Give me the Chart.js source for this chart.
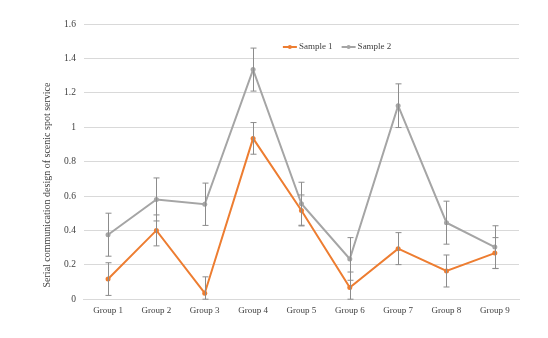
<!DOCTYPE html>
<html>
<head>
<meta charset="utf-8">
<script src="https://cdn.jsdelivr.net/npm/chart.js@4"></script>
<style>
  html, body { margin: 0; padding: 0; background: #fff; }
  #wrap { width: 548px; height: 338px; }
</style>
</head>
<body>
<div id="wrap"><canvas id="myChart" width="548" height="338"></canvas></div>
<script>
const groups = ['Group 1', 'Group 2', 'Group 3', 'Group 4', 'Group 5', 'Group 6', 'Group 7', 'Group 8', 'Group 9'];
const sample1 = [0.117, 0.40, 0.035, 0.935, 0.516, 0.068, 0.294, 0.164, 0.268];
const sample1Err = [0.095, 0.09, 0.095, 0.092, 0.09, 0.09, 0.093, 0.093, 0.09];
const sample2 = [0.375, 0.58, 0.552, 1.335, 0.555, 0.234, 1.125, 0.445, 0.303];
const sample2Err = [0.125, 0.125, 0.123, 0.125, 0.125, 0.124, 0.127, 0.125, 0.124];
const yTicks = [0, 0.2, 0.4, 0.6, 0.8, 1, 1.2, 1.4, 1.6];

const orange = '#ED7D31';
const grey = '#A5A5A5';
const serif = '"Liberation Serif", "Times New Roman", serif';

// error bars drawn from the data arrays through the chart scales
const errorBars = {
    id: 'errorBars',
    afterDatasetsDraw(chart) {
        const ctx = chart.ctx;
        const x = chart.scales.x;
        const y = chart.scales.y;
        const sets = [[sample1, sample1Err], [sample2, sample2Err]];
        ctx.save();
        ctx.strokeStyle = '#8C8C8C';
        ctx.lineWidth = 1;
        sets.forEach(function(s) {
            s[0].forEach(function(v, i) {
                const px = Math.round(x.getPixelForValue(i)) + 0.5;
                const top = y.getPixelForValue(v + s[1][i]);
                const bot = Math.min(y.getPixelForValue(v - s[1][i]), y.bottom);
                ctx.beginPath();
                ctx.moveTo(px, top); ctx.lineTo(px, bot);
                ctx.moveTo(px - 3, top); ctx.lineTo(px + 3, top);
                ctx.moveTo(px - 3, bot); ctx.lineTo(px + 3, bot);
                ctx.stroke();
            });
        });
        ctx.restore();
    }
};

// y title drawn lower than centre, as in the original
const yTitle = {
    id: 'yTitle',
    afterDraw(chart) {
        const ctx = chart.ctx;
        const a = chart.chartArea;
        ctx.save();
        ctx.font = '10px ' + serif;
        ctx.fillStyle = '#404040';
        ctx.textAlign = 'center';
        ctx.textBaseline = 'middle';
        ctx.translate(47, a.top + 161);
        ctx.rotate(-Math.PI / 2);
        ctx.fillText('Serial communication design of scenic spot service', 0, 0);
        ctx.restore();
    }
};

// legend sitting inside the plot area, like the original
const innerLegend = {
    id: 'innerLegend',
    afterDraw(chart) {
        const ctx = chart.ctx;
        const a = chart.chartArea;
        const items = [['Sample 1', orange], ['Sample 2', grey]];
        let lx = a.left + 199;
        const ly = a.top + 23;
        ctx.save();
        ctx.font = '9px ' + serif;
        ctx.textBaseline = 'middle';
        items.forEach(function(it) {
            ctx.strokeStyle = it[1];
            ctx.lineWidth = 2;
            ctx.beginPath();
            ctx.moveTo(lx, ly); ctx.lineTo(lx + 14, ly);
            ctx.stroke();
            ctx.fillStyle = it[1];
            ctx.beginPath();
            ctx.arc(lx + 7, ly, 2, 0, Math.PI * 2);
            ctx.fill();
            ctx.fillStyle = '#404040';
            ctx.fillText(it[0], lx + 16, ly);
            lx += 16 + ctx.measureText(it[0]).width + 9;
        });
        ctx.restore();
    }
};

const data = {
    labels: groups,
    datasets: [{
        label: 'Sample 1',
        data: sample1,
        borderColor: orange,
        backgroundColor: orange,
        borderWidth: 2,
        pointRadius: 2.5,
        pointBorderWidth: 0,
        tension: 0
    }, {
        label: 'Sample 2',
        data: sample2,
        borderColor: grey,
        backgroundColor: grey,
        borderWidth: 2,
        pointRadius: 2.5,
        pointBorderWidth: 0,
        tension: 0
    }]
};

const config = {
    type: 'line',
    data: data,
    options: {
        responsive: false,
        animation: false,
        layout: { padding: { left: 56, right: 29, top: 24, bottom: 16 } },
        plugins: {
            legend: { display: false },
            tooltip: { enabled: false }
        },
        scales: {
            x: {
                offset: true,
                grid: { display: false, drawTicks: false },
                border: { color: '#D9D9D9' },
                ticks: { color: '#404040', font: { family: serif, size: 9 }, padding: 6, maxRotation: 0 }
            },
            y: {
                min: 0,
                max: 1.6,
                afterBuildTicks: function(axis) {
                    axis.ticks = yTicks.map(function(v) { return { value: v }; });
                },
                grid: { color: '#D9D9D9', drawTicks: false },
                border: { display: false },
                ticks: {
                    color: '#404040',
                    font: { family: serif, size: 9.5 },
                    padding: 8,
                    callback: function(v) { return String(Math.round(v * 10) / 10); }
                }
            }
        }
    },
    plugins: [errorBars, innerLegend, yTitle]
};

new Chart(document.getElementById('myChart').getContext('2d'), config);
</script>
</body>
</html>
